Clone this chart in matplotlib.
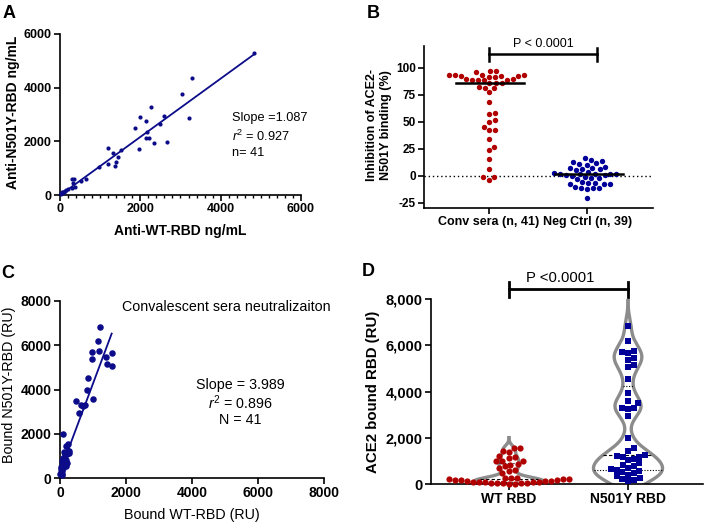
import numpy as np
import matplotlib
matplotlib.use('Agg')
import matplotlib.pyplot as plt
from matplotlib.ticker import MultipleLocator, FuncFormatter

plt.rcParams['font.family'] = ['Liberation Sans', 'DejaVu Sans']
plt.rcParams['mathtext.fontset'] = 'custom'
plt.rcParams['mathtext.rm'] = 'Liberation Sans'
plt.rcParams['mathtext.it'] = 'Liberation Sans:italic'
plt.rcParams['axes.unicode_minus'] = False

# panel A: ELISA titres (ng/mL)
wt_ng = [4838, 3278, 3029, 3203, 2274, 1983, 1876, 2133, 2589, 2490, 2166, 2141, 2207, 2332,
         2656, 1975, 1187, 1328, 1510, 1444, 1402, 1378, 1187, 979, 647, 531, 357, 307, 332,
         373, 199, 83, 50, 25, 120, 150, 60, 100, 30, 40, 300]
n501y_ng = [5293, 4346, 3748, 2877, 3275, 2914, 2503, 2752, 2951, 2653, 2341, 2130, 2130, 1955,
            1993, 1719, 1743, 1569, 1694, 1407, 1220, 1083, 1171, 1058, 610, 523, 610, 585, 436,
            311, 237, 125, 87, 62, 150, 190, 100, 110, 40, 70, 260]
slope_a, intercept_a = 1.087, -10

# panel B: inhibition of ACE2-N501Y binding (%)
conv_sera = [96.9, 96.3, 97.2, 91.7, 91.4, 93.5, 93.5, 92.9, 92.6, 93.5, 92.6, 92.0, 88.9, 89.2,
             88.9, 88.9, 89.5, 88.3, 81.5, 85.8, 85.5, 85.8, 81.8, 77.5, 80.9, 68.5, 57.4, 58.0,
             50.0, 51.9, 42.0, 42.0, 44.8, 34.0, 26.5, 24.0, 15.7, 6.2, -3.7, -1.5, -1.5]
neg_ctrl = [16, 14.5, 13.3, 13, 11.4, 11.1, 9.9, 8.3, 7.4, 6.8, 6.5, 5.9, 4.9, 3.7, 2.5, 1.9, 1.9,
            1.5, 1.5, 1.2, 0.6, 0.3, -0.3, -1.5, -2.2, -2.5, -3.5, -6.2, -6.5, -6.8, -7.4, -7.7,
            -7.7, -10.5, -11.4, -11.7, -11.7, -12.3, -21]
b_groups = ['Conv sera (n, 41)', 'Neg Ctrl (n, 39)']

# panels C and D: SPR bound RBD (RU)
wt_ru = [1212, 1141, 980, 1172, 1566, 1404, 980, 1414, 1566, 848, 828, 1010, 475, 626, 758, 700,
         576, 101, 250, 180, 270, 230, 120, 260, 200, 150, 90, 170, 60, 210, 130, 80, 190, 40,
         100, 30, 60, 20, 50, 10, 70]
n501y_ru = [6838, 6189, 5706, 5751, 5660, 5449, 5358, 5132, 5057, 4528, 3955, 3592, 3487, 3291,
            3291, 3250, 2943, 1992, 1540, 1440, 1240, 1200, 1180, 1150, 1070, 1040, 900, 820, 760,
            680, 640, 600, 560, 500, 460, 400, 330, 250, 200, 160, 120]
slope_c, intercept_c = 3.989, 280
d_groups = ['WT RBD', 'N501Y RBD']

NAVY = '#0c0c8a'
RED = '#b00000'
BLUE = '#000099'
GREY = '#8c8c8c'

W, H = 709, 525
fig = plt.figure(figsize=(W / 100, H / 100), dpi=100)


def add_ax(l, t, r, b):
    return fig.add_axes([l / W, 1 - b / H, (r - l) / W, (b - t) / H])


def ftext(x, y, s, **kw):
    kw.setdefault('ha', 'center')
    kw.setdefault('va', 'center')
    return fig.text(x / W, 1 - y / H, s, **kw)


def style(ax, size):
    for side in ['top', 'right']:
        ax.spines[side].set_visible(False)
    for side in ['left', 'bottom']:
        ax.spines[side].set_linewidth(1.2)
    ax.tick_params(which='major', length=4, width=1.2, labelsize=size, pad=2)
    for lab in ax.get_xticklabels() + ax.get_yticklabels():
        lab.set_fontweight('bold')


def swarm(ax, xc, values, size_px):
    pts = ax.transData.transform(np.column_stack([np.full(len(values), xc), values]))
    ys = pts[:, 1]
    offs = np.zeros(len(values))
    placed = []
    for i in np.argsort(ys):
        y = ys[i]
        cands = [0.0]
        for px, py in placed:
            dy = y - py
            if abs(dy) < size_px:
                dx = np.sqrt(size_px ** 2 - dy ** 2)
                cands += [px + dx, px - dx]
        cands.sort(key=abs)
        for c in cands:
            if all((c - px) ** 2 + (y - py) ** 2 >= size_px ** 2 - 1e-6 for px, py in placed):
                offs[i] = c
                break
        placed.append((offs[i], y))
    x0 = ax.transData.transform((xc, 0))[0]
    x1 = ax.transData.transform((xc + 1, 0))[0]
    return xc + offs / (x1 - x0)


# ---- A ----
axA = add_ax(60, 34, 301, 195)
axA.set_xlim(0, 6000)
axA.set_ylim(0, 6000)
axA.xaxis.set_major_locator(MultipleLocator(2000))
axA.xaxis.set_minor_locator(MultipleLocator(200))
axA.yaxis.set_major_locator(MultipleLocator(2000))
axA.scatter(wt_ng, n501y_ng, s=9, color=NAVY, zorder=3, clip_on=False, linewidths=0)
xs = np.array([min(wt_ng), max(wt_ng)])
axA.plot(xs, slope_a * xs + intercept_a, color=NAVY, lw=1.3)
style(axA, 9)
axA.tick_params(which='minor', length=2.5, width=1)
ftext(180, 231, 'Anti-WT-RBD ng/mL', fontsize=10, fontweight='bold')
ftext(13, 112, 'Anti-N501Y-RBD ng/mL', fontsize=10, fontweight='bold', rotation=90)
ftext(232, 118, 'Slope =1.087', fontsize=9.2, ha='left')
ftext(232, 136, r'$\mathit{r}^2$ = 0.927', fontsize=9.2, ha='left')
ftext(232, 153, 'n= 41', fontsize=9.2, ha='left')

# ---- B ----
axB = add_ax(424, 46, 653, 208)
axB.set_xlim(-0.66, 1.67)
axB.set_ylim(-30, 120)
axB.set_yticks([-25, 0, 25, 50, 75, 100])
axB.set_xticks([0, 1])
axB.set_xticklabels(b_groups)
axB.axhline(0, color='black', lw=1, ls=(0, (1, 2)), zorder=1)
for i, (vals, col) in enumerate([(conv_sera, RED), (neg_ctrl, BLUE)]):
    xj = swarm(axB, i, vals, 6.0)
    axB.scatter(xj, vals, s=15, color=col, zorder=3, linewidths=0)
    axB.plot([i - 0.33, i + 0.36], [np.median(vals)] * 2, color='black', lw=1.8, zorder=4)
style(axB, 8.5)
axB.tick_params(axis='x', labelsize=9)
axB.plot([0, 1.1], [112.7, 112.7], color='black', lw=1.8, clip_on=False)
for xb in [0, 1.1]:
    axB.plot([xb, xb], [106, 118.5], color='black', lw=1.8, clip_on=False)
ftext(543, 44, 'P < 0.0001', fontsize=9)
ftext(379, 125, 'Inhibition of ACE2-\nN501Y binding (%)', fontsize=9, fontweight='bold',
      rotation=90, linespacing=1.15)

# ---- C ----
axC = add_ax(60, 301, 324, 478)
axC.set_xlim(0, 8000)
axC.set_ylim(0, 8000)
axC.xaxis.set_major_locator(MultipleLocator(2000))
axC.yaxis.set_major_locator(MultipleLocator(2000))
axC.scatter(wt_ru, n501y_ru, s=22, color=NAVY, zorder=3, clip_on=False, linewidths=0)
xs = np.array([min(wt_ru), max(wt_ru)])
axC.plot(xs, slope_c * xs + intercept_c, color=NAVY, lw=1.3)
style(axC, 10)
ftext(226, 307, 'Convalescent sera neutralizaiton', fontsize=10.3)
ftext(240, 385, 'Slope = 3.989', fontsize=10.3)
ftext(240, 403, r'$\mathit{r}^2$ = 0.896', fontsize=10.3)
ftext(240, 420, 'N = 41', fontsize=10.3)
ftext(192, 515, 'Bound WT-RBD (RU)', fontsize=10.3)
ftext(9, 385, 'Bound N501Y-RBD (RU)', fontsize=10.3, rotation=90)

# ---- D ----
axD = add_ax(431, 299, 703, 484)
axD.set_xlim(-0.655, 1.63)
axD.set_ylim(0, 8000)
axD.yaxis.set_major_locator(MultipleLocator(2000))
axD.yaxis.set_major_formatter(FuncFormatter(lambda v, p: f'{int(v):,}'))
axD.set_xticks([0, 1])
axD.set_xticklabels(d_groups)
for i, (vals, bw) in enumerate([(wt_ru, 145), (n501y_ru, 390)]):
    vals = np.asarray(vals, dtype=float)
    grid = np.linspace(vals.min() - 3 * bw, vals.max() + 3 * bw, 500)
    dens = np.exp(-0.5 * ((grid[:, None] - vals[None, :]) / bw) ** 2).sum(axis=1)
    w = dens / dens.max() * 0.29
    axD.plot(i - w, grid, color=GREY, lw=2.4, zorder=1)
    axD.plot(i + w, grid, color=GREY, lw=2.4, zorder=1)
    q1, med, q3 = np.percentile(vals, [25, 50, 75], method='weibull')
    for q, ls in [(q1, (0, (1, 1.5))), (med, (0, (3, 2))), (q3, (0, (1, 1.5)))]:
        hw = np.interp(q, grid, w)
        axD.plot([i - hw, i + hw], [q, q], color='black', lw=0.8, ls=ls, zorder=2)
xj = swarm(axD, 0, wt_ru, 6.0)
axD.scatter(xj, wt_ru, s=20, color=RED, zorder=3, linewidths=0, clip_on=False)
xj = swarm(axD, 1, n501y_ru, 6.0)
axD.scatter(xj, n501y_ru, s=16, marker='s', color=BLUE, zorder=3, linewidths=0, clip_on=False)
style(axD, 10.5)
axD.tick_params(axis='x', labelsize=10)
axD.plot([0, 1], [8432, 8432], color='black', lw=2, clip_on=False)
for xb in [0, 1]:
    axD.plot([xb, xb], [8086, 8730], color='black', lw=2, clip_on=False)
ftext(560, 278, 'P <0.0001', fontsize=10.7)
ftext(373, 392, 'ACE2 bound RBD (RU)', fontsize=10.8, fontweight='bold', rotation=90)

# panel letters
for x, y, s in [(9, 13, 'A'), (373, 14, 'B'), (8, 273, 'C'), (368, 272, 'D')]:
    ftext(x, y, s, fontsize=13, fontweight='bold')

fig.savefig('out.png', dpi=100)
